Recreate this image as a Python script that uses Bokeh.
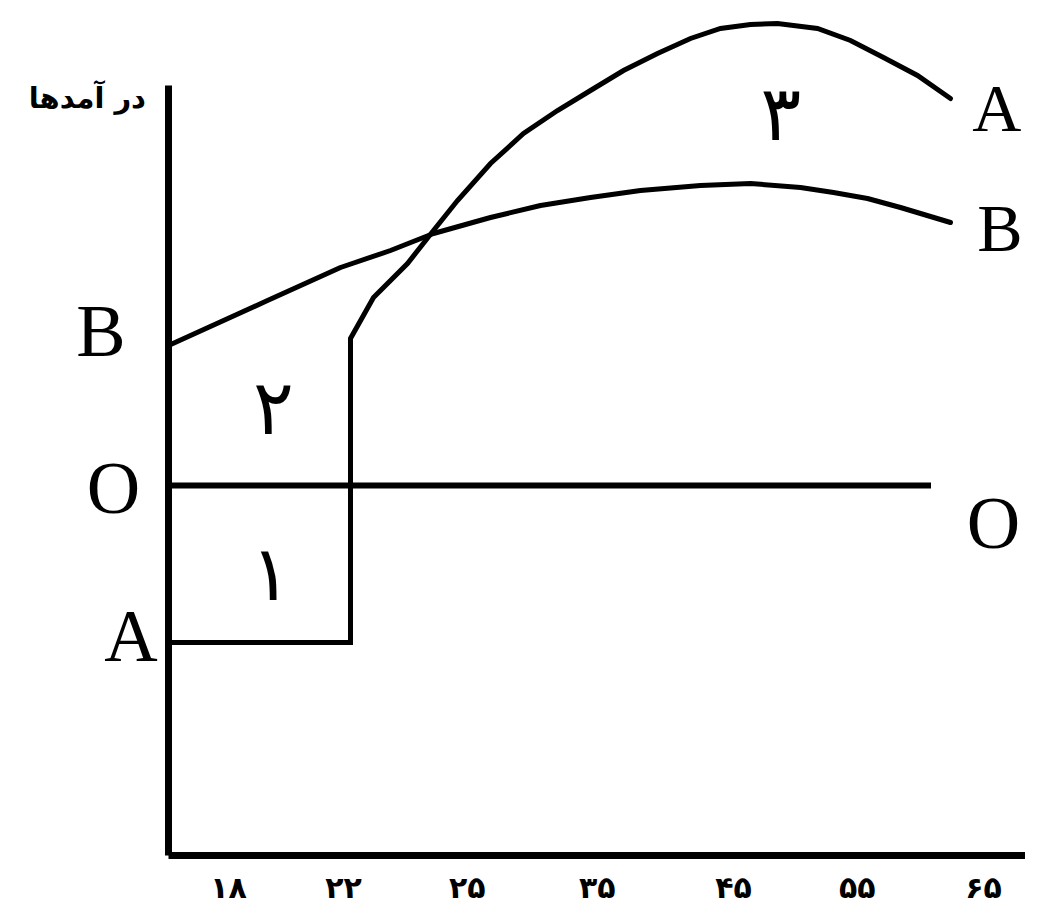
from bokeh.plotting import figure
from bokeh.models import Range1d, ColumnDataSource
from bokeh.core.properties import value
from bokeh.embed import file_html
from bokeh.resources import INLINE

# ---- data (schematic units: x = career stage, y = earnings relative to O) ----
# Path A: study first (negative earnings), then a higher earnings profile
a_x = [0.0, 1.456, 1.456, 1.64, 1.912, 2.12, 2.312, 2.576, 2.84, 3.112, 3.376, 3.64,
       3.912, 4.176, 4.416, 4.656, 4.872, 5.192, 5.456, 5.72, 5.992, 6.256]
a_y = [-1.57, -1.57, 1.47, 1.88, 2.22, 2.55, 2.85, 3.22, 3.52, 3.75, 3.95, 4.15,
       4.32, 4.47, 4.57, 4.61, 4.62, 4.57, 4.45, 4.28, 4.10, 3.87]
# Path B: start working directly
b_x = [0.0, 0.792, 1.376, 1.776, 2.12, 2.576, 2.976, 3.376, 3.776, 4.256, 4.656,
       5.056, 5.32, 5.592, 5.856, 6.256]
b_y = [1.40, 1.85, 2.18, 2.35, 2.52, 2.68, 2.80, 2.88, 2.95, 3.00, 3.02,
       2.98, 2.93, 2.87, 2.78, 2.63]
# Zero line O-O
o_x = [0.0, 6.10]
o_y = [0.0, 0.0]

# age tick labels and their positions
tick_labels = ["۱۸", "۲۲", "۲۵", "۳۵", "۴۵", "۵۵", "۶۵"]
tick_pos = [0.48, 1.40, 2.39, 3.43, 4.52, 5.51, 6.52]

# axes extents
axis_x0, axis_x1 = 0.0, 7.2
axis_y0, axis_y1 = -3.70, 4.00

y_title = "در آمدها"

FONT_SERIF = "Liberation Serif"
FONT_FA = "DejaVu Sans"

p = figure(width=1025, height=906,
           x_range=Range1d(-1.344, 6.856), y_range=Range1d(-4.21, 4.85),
           output_backend="svg", toolbar_location=None, min_border=0)
p.axis.visible = False
p.grid.visible = False
p.outline_line_color = None
p.background_fill_color = "white"
p.border_fill_color = "white"

# axes lines
p.line([axis_x0, axis_x0], [axis_y0, axis_y1], line_color="black", line_width=7)
p.line([axis_x0, axis_x1], [axis_y0, axis_y0], line_color="black", line_width=7)

# curves
p.line(o_x, o_y, line_color="black", line_width=6)
p.line(b_x, b_y, line_color="black", line_width=5, line_cap="round", line_join="round")
p.line(a_x, a_y, line_color="black", line_width=5, line_cap="round", line_join="miter")

# tick labels
tsrc = ColumnDataSource(dict(x=tick_pos, y=[-4.02] * len(tick_pos), t=tick_labels))
p.text(x="x", y="y", text="t", source=tsrc, text_font=value(FONT_FA), text_font_size="30px",
       text_font_style="bold", text_align="center", text_baseline="middle", text_color="black")

# y title
p.text(x=[-0.18], y=[3.88], text=[y_title], text_font=value(FONT_FA), text_font_size="29px",
       text_font_style="bold", text_align="right", text_baseline="middle", text_color="black")

# left letters
p.text(x=[-0.54, -0.44, -0.30], y=[1.55, -0.02, -1.50], text=["B", "O", "A"],
       text_font=value(FONT_SERIF), text_font_size="74px",
       text_align="center", text_baseline="middle", text_color="black")

# right letters
p.text(x=[6.43, 6.47], y=[3.78, 2.58], text=["A", "B"],
       text_font=value(FONT_SERIF), text_font_size="68px",
       text_align="left", text_baseline="middle", text_color="black")
p.text(x=[6.60], y=[-0.37], text=["O"],
       text_font=value(FONT_SERIF), text_font_size="74px",
       text_align="center", text_baseline="middle", text_color="black")

# region numbers
p.text(x=[0.82, 0.84, 4.90], y=[-0.88, 0.78, 3.72], text=["۱", "۲", "۳"],
       text_font=value(FONT_FA), text_font_size="76px",
       text_align="center", text_baseline="middle", text_color="black")

open("out.html", "w").write(file_html(p, INLINE))
